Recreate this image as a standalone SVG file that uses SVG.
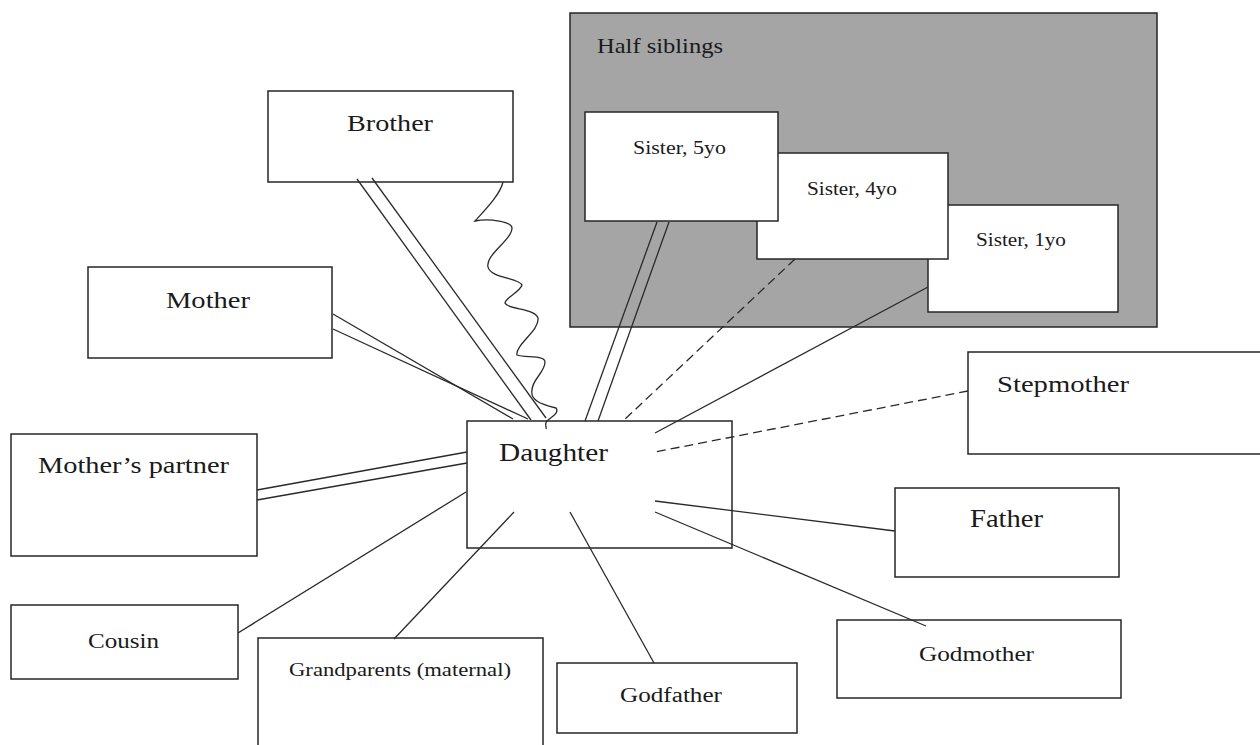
<svg xmlns="http://www.w3.org/2000/svg" width="1260" height="745" viewBox="0 0 1260 745">
<style>
.box{fill:#fff;stroke:#262626;stroke-width:1.5}
.grp{fill:#a5a5a5;stroke:#262626;stroke-width:1.5}
.lbl{font-family:"Liberation Serif","DejaVu Serif",serif;fill:#1a1a1a}
.ln{stroke:#2a2a2a;stroke-width:1.3;fill:none}
.dash{stroke-dasharray:9 5}
</style>
<rect width="1260" height="745" fill="#fff"/>
<g id="half-siblings">
<rect class="grp" x="570" y="13" width="587" height="314"/>
<text class="lbl" x="597" y="53" font-size="21" textLength="126" lengthAdjust="spacingAndGlyphs">Half siblings</text>
</g>
<g id="sister-1yo">
<rect class="box" x="928" y="205" width="190" height="107"/>
<text class="lbl" x="976" y="246" font-size="19" textLength="90" lengthAdjust="spacingAndGlyphs">Sister, 1yo</text>
</g>
<g id="sister-4yo">
<rect class="box" x="757" y="153" width="191" height="106"/>
<text class="lbl" x="807" y="195" font-size="19" textLength="90" lengthAdjust="spacingAndGlyphs">Sister, 4yo</text>
</g>
<g id="sister-5yo">
<rect class="box" x="585" y="112" width="193" height="109"/>
<text class="lbl" x="633" y="154" font-size="19" textLength="93" lengthAdjust="spacingAndGlyphs">Sister, 5yo</text>
</g>
<g id="brother">
<rect class="box" x="268" y="91" width="245" height="91"/>
<text class="lbl" x="347" y="131" font-size="24" textLength="86" lengthAdjust="spacingAndGlyphs">Brother</text>
</g>
<g id="mother">
<rect class="box" x="88" y="267" width="244" height="91"/>
<text class="lbl" x="166" y="308" font-size="24" textLength="84" lengthAdjust="spacingAndGlyphs">Mother</text>
</g>
<g id="mothers-partner">
<rect class="box" x="11" y="434" width="246" height="122"/>
<text class="lbl" x="38" y="473" font-size="24" textLength="191" lengthAdjust="spacingAndGlyphs">Mother’s partner</text>
</g>
<g id="cousin">
<rect class="box" x="11" y="605" width="227" height="74"/>
<text class="lbl" x="88" y="648" font-size="20" textLength="71" lengthAdjust="spacingAndGlyphs">Cousin</text>
</g>
<g id="grandparents">
<rect class="box" x="258" y="638" width="285" height="130"/>
<text class="lbl" x="289" y="676" font-size="19" textLength="222" lengthAdjust="spacingAndGlyphs">Grandparents (maternal)</text>
</g>
<g id="godfather">
<rect class="box" x="557" y="663" width="240" height="70"/>
<text class="lbl" x="620" y="702" font-size="20" textLength="102" lengthAdjust="spacingAndGlyphs">Godfather</text>
</g>
<g id="godmother">
<rect class="box" x="837" y="620" width="284" height="78"/>
<text class="lbl" x="919" y="661" font-size="20" textLength="115" lengthAdjust="spacingAndGlyphs">Godmother</text>
</g>
<g id="father">
<rect class="box" x="895" y="488" width="224" height="89"/>
<text class="lbl" x="970" y="527" font-size="25" textLength="73" lengthAdjust="spacingAndGlyphs">Father</text>
</g>
<g id="stepmother">
<rect class="box" x="968" y="352" width="300" height="102"/>
<text class="lbl" x="997" y="392" font-size="24" textLength="132" lengthAdjust="spacingAndGlyphs">Stepmother</text>
</g>
<g id="daughter">
<rect class="box" x="467" y="421" width="265" height="127"/>
<text class="lbl" x="499" y="461" font-size="25" textLength="109" lengthAdjust="spacingAndGlyphs">Daughter</text>
</g>
<g id="connectors">
<line class="ln" x1="357" y1="179" x2="531" y2="420"/>
<line class="ln" x1="372" y1="178" x2="546" y2="418"/>
<path class="ln" d="M503 182 C500 195 485 210 475 221 C490 218 512 222 512 228 C512 240 485 255 488 267 C490 278 520 278 522 285 C520 292 505 298 505 303 C508 310 535 308 538 318 C540 330 515 345 517 355 C525 358 545 355 545 362 C545 372 532 380 532 390 C530 400 540 404 556 408 C560 413 550 418 547 421 C544 424 547 427 546 429"/>
<line class="ln" x1="333" y1="314" x2="513" y2="419"/>
<line class="ln" x1="333" y1="329" x2="528" y2="419"/>
<line class="ln" x1="257" y1="490" x2="467" y2="452"/>
<line class="ln" x1="257" y1="500" x2="467" y2="463"/>
<line class="ln" x1="238" y1="633" x2="466" y2="492"/>
<line class="ln" x1="394" y1="639" x2="514" y2="512"/>
<line class="ln" x1="654" y1="663" x2="570" y2="512"/>
<line class="ln" x1="926" y1="626" x2="655" y2="512"/>
<line class="ln" x1="895" y1="531" x2="655" y2="501"/>
<line class="ln dash" x1="968" y1="391" x2="655" y2="452"/>
<line class="ln" x1="928" y1="287" x2="655" y2="433"/>
<line class="ln dash" x1="795" y1="259" x2="623" y2="421"/>
<line class="ln" x1="657" y1="222" x2="585" y2="421"/>
<line class="ln" x1="669" y1="222" x2="598" y2="421"/>
</g>
</svg>
